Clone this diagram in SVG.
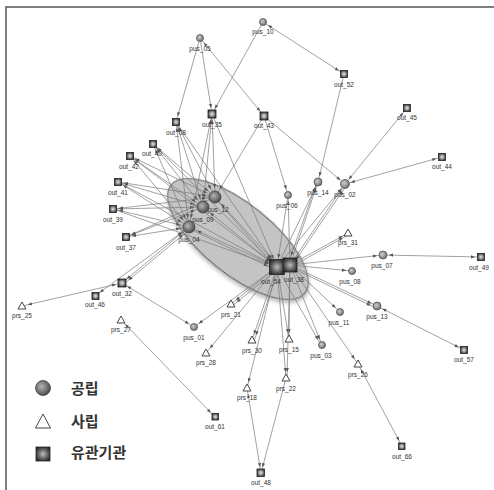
<svg xmlns="http://www.w3.org/2000/svg" width="494" height="490" viewBox="0 0 494 490">
<style>
.t{font-family:"Liberation Sans",Arial,sans-serif;font-size:6.5px;fill:#333;text-anchor:middle}
.c{fill:url(#gc);stroke:#555;stroke-width:0.8}
.cb{fill:url(#gcb);stroke:#444;stroke-width:0.8}
.s{fill:url(#gs);stroke:#222;stroke-width:0.8}
.sb{fill:url(#gsb);stroke:#222;stroke-width:0.8}
.tr{fill:#fff;stroke:#444;stroke-width:1}
#edges line{stroke:#7a7a7a;stroke-width:0.7}
.lg{font-family:"Noto Sans CJK KR","Noto Sans",sans-serif;font-size:15px;font-weight:bold;fill:#333}
</style>
<defs>
<radialGradient id="gc" cx="0.4" cy="0.4" r="0.65"><stop offset="0" stop-color="#cfcfcf"/><stop offset="1" stop-color="#6a6a6a"/></radialGradient>
<radialGradient id="gcb" cx="0.4" cy="0.4" r="0.65"><stop offset="0" stop-color="#b5b5b5"/><stop offset="1" stop-color="#444"/></radialGradient>
<radialGradient id="gs" cx="0.5" cy="0.5" r="0.6"><stop offset="0" stop-color="#e8e8e8"/><stop offset="0.45" stop-color="#999"/><stop offset="1" stop-color="#222"/></radialGradient>
<radialGradient id="gsb" cx="0.5" cy="0.5" r="0.65"><stop offset="0" stop-color="#bdbdbd"/><stop offset="0.6" stop-color="#555"/><stop offset="1" stop-color="#1e1e1e"/></radialGradient>
<marker id="m" markerUnits="userSpaceOnUse" markerWidth="20" markerHeight="20" viewBox="-10 -10 20 20" refX="6" refY="0" orient="auto-start-reverse" overflow="visible"><path d="M0,0 L-4,-1.6 L-4,1.6 Z" fill="#555"/></marker>
<marker id="M" markerUnits="userSpaceOnUse" markerWidth="20" markerHeight="20" viewBox="-10 -10 20 20" refX="9" refY="0" orient="auto-start-reverse" overflow="visible"><path d="M0,0 L-4,-1.6 L-4,1.6 Z" fill="#555"/></marker>
<filter id="sh" x="-20%" y="-20%" width="140%" height="140%"><feDropShadow dx="2" dy="2" stdDeviation="2" flood-color="#000" flood-opacity="0.3"/></filter>
</defs>
<rect x="6" y="7" width="500" height="500" fill="#fff" stroke="#555" stroke-width="1.5"/>
<ellipse id="group_ellipse" cx="238" cy="239" rx="86" ry="35" transform="rotate(39 238 239)" fill="#c4c4c4" stroke="#555" stroke-width="1" filter="url(#sh)"/>
<g id="edges">
<line x1="200" y1="38" x2="176" y2="122" marker-end="url(#m)"/>
<line x1="200" y1="38" x2="212" y2="114" marker-end="url(#m)"/>
<line x1="200" y1="38" x2="264" y2="116" marker-start="url(#m)" marker-end="url(#m)"/>
<line x1="263" y1="22" x2="212" y2="114" marker-end="url(#m)"/>
<line x1="263" y1="22" x2="344" y2="74" marker-start="url(#m)" marker-end="url(#m)"/>
<line x1="344" y1="74" x2="318" y2="182" marker-end="url(#m)"/>
<line x1="407" y1="108" x2="345" y2="184" marker-start="url(#m)" marker-end="url(#m)"/>
<line x1="442" y1="157" x2="345" y2="184" marker-start="url(#m)" marker-end="url(#m)"/>
<line x1="264" y1="116" x2="345" y2="184" marker-end="url(#m)"/>
<line x1="264" y1="116" x2="288" y2="195" marker-end="url(#m)"/>
<line x1="264" y1="116" x2="215" y2="197" marker-end="url(#M)"/>
<line x1="176" y1="122" x2="215" y2="197" marker-start="url(#m)" marker-end="url(#M)"/>
<line x1="176" y1="122" x2="203" y2="207" marker-start="url(#m)" marker-end="url(#M)"/>
<line x1="176" y1="122" x2="189" y2="227" marker-start="url(#m)" marker-end="url(#M)"/>
<line x1="212" y1="114" x2="215" y2="197" marker-start="url(#m)" marker-end="url(#M)"/>
<line x1="212" y1="114" x2="203" y2="207" marker-start="url(#m)" marker-end="url(#M)"/>
<line x1="212" y1="114" x2="189" y2="227" marker-start="url(#m)" marker-end="url(#M)"/>
<line x1="153" y1="144" x2="215" y2="197" marker-start="url(#m)" marker-end="url(#M)"/>
<line x1="153" y1="144" x2="203" y2="207" marker-start="url(#m)" marker-end="url(#M)"/>
<line x1="153" y1="144" x2="189" y2="227" marker-start="url(#m)" marker-end="url(#M)"/>
<line x1="130" y1="156" x2="215" y2="197" marker-start="url(#m)" marker-end="url(#M)"/>
<line x1="130" y1="156" x2="203" y2="207" marker-start="url(#m)" marker-end="url(#M)"/>
<line x1="130" y1="156" x2="189" y2="227" marker-start="url(#m)" marker-end="url(#M)"/>
<line x1="118" y1="182" x2="215" y2="197" marker-start="url(#m)" marker-end="url(#M)"/>
<line x1="118" y1="182" x2="203" y2="207" marker-start="url(#m)" marker-end="url(#M)"/>
<line x1="118" y1="182" x2="189" y2="227" marker-start="url(#m)" marker-end="url(#M)"/>
<line x1="113" y1="209" x2="215" y2="197" marker-start="url(#m)" marker-end="url(#M)"/>
<line x1="113" y1="209" x2="203" y2="207" marker-start="url(#m)" marker-end="url(#M)"/>
<line x1="113" y1="209" x2="189" y2="227" marker-start="url(#m)" marker-end="url(#M)"/>
<line x1="126" y1="237" x2="215" y2="197" marker-start="url(#m)" marker-end="url(#M)"/>
<line x1="126" y1="237" x2="203" y2="207" marker-start="url(#m)" marker-end="url(#M)"/>
<line x1="126" y1="237" x2="189" y2="227" marker-start="url(#m)" marker-end="url(#M)"/>
<line x1="176" y1="122" x2="277" y2="267" marker-end="url(#M)"/>
<line x1="212" y1="114" x2="277" y2="267" marker-end="url(#M)"/>
<line x1="153" y1="144" x2="277" y2="267" marker-end="url(#M)"/>
<line x1="130" y1="156" x2="277" y2="267" marker-end="url(#M)"/>
<line x1="118" y1="182" x2="277" y2="267" marker-end="url(#M)"/>
<line x1="113" y1="209" x2="277" y2="267" marker-end="url(#M)"/>
<line x1="215" y1="197" x2="277" y2="265" marker-start="url(#M)" marker-end="url(#M)"/>
<line x1="216" y1="199" x2="276" y2="268" marker-end="url(#M)"/>
<line x1="203" y1="207" x2="277" y2="267" marker-start="url(#M)" marker-end="url(#M)"/>
<line x1="189" y1="227" x2="277" y2="267" marker-start="url(#M)" marker-end="url(#M)"/>
<line x1="190" y1="229" x2="276" y2="270" marker-end="url(#M)"/>
<line x1="95" y1="296" x2="189" y2="227" marker-start="url(#m)" marker-end="url(#M)"/>
<line x1="122" y1="283" x2="189" y2="227" marker-start="url(#m)" marker-end="url(#M)"/>
<line x1="124" y1="284" x2="190" y2="229" marker-start="url(#m)" marker-end="url(#M)"/>
<line x1="22" y1="306" x2="122" y2="283" marker-start="url(#m)" marker-end="url(#m)"/>
<line x1="122" y1="283" x2="194" y2="327" marker-start="url(#m)" marker-end="url(#m)"/>
<line x1="121" y1="320" x2="215" y2="417" marker-start="url(#m)" marker-end="url(#m)"/>
<line x1="290" y1="265" x2="288" y2="195" marker-end="url(#m)"/>
<line x1="277" y1="267" x2="288" y2="195" marker-start="url(#M)"/>
<line x1="290" y1="265" x2="318" y2="182" marker-end="url(#m)"/>
<line x1="288" y1="264" x2="317" y2="182" marker-start="url(#M)" marker-end="url(#m)"/>
<line x1="277" y1="267" x2="318" y2="182" marker-end="url(#m)"/>
<line x1="290" y1="265" x2="345" y2="184" marker-end="url(#m)"/>
<line x1="291" y1="267" x2="346" y2="186" marker-start="url(#M)" marker-end="url(#m)"/>
<line x1="277" y1="267" x2="345" y2="184" marker-end="url(#m)"/>
<line x1="290" y1="265" x2="348" y2="233" marker-end="url(#m)"/>
<line x1="291" y1="267" x2="348" y2="235" marker-end="url(#m)"/>
<line x1="290" y1="265" x2="383" y2="255" marker-end="url(#m)"/>
<line x1="290" y1="265" x2="352" y2="271" marker-end="url(#m)"/>
<line x1="290" y1="265" x2="377" y2="306" marker-end="url(#m)"/>
<line x1="290" y1="267" x2="376" y2="308" marker-end="url(#m)"/>
<line x1="290" y1="265" x2="340" y2="312" marker-end="url(#m)"/>
<line x1="290" y1="265" x2="358" y2="364" marker-end="url(#m)"/>
<line x1="290" y1="265" x2="322" y2="345" marker-end="url(#m)"/>
<line x1="277" y1="267" x2="321" y2="345" marker-end="url(#m)"/>
<line x1="277" y1="267" x2="289" y2="339" marker-end="url(#m)"/>
<line x1="290" y1="265" x2="289" y2="339" marker-end="url(#m)"/>
<line x1="277" y1="267" x2="286" y2="378" marker-end="url(#m)"/>
<line x1="290" y1="265" x2="287" y2="378" marker-end="url(#m)"/>
<line x1="277" y1="267" x2="252" y2="340" marker-end="url(#m)"/>
<line x1="279" y1="268" x2="254" y2="341" marker-end="url(#m)"/>
<line x1="277" y1="267" x2="247" y2="388" marker-end="url(#m)"/>
<line x1="277" y1="267" x2="231" y2="304" marker-end="url(#m)"/>
<line x1="278" y1="269" x2="232" y2="306" marker-end="url(#m)"/>
<line x1="277" y1="267" x2="206" y2="353" marker-end="url(#m)"/>
<line x1="277" y1="267" x2="194" y2="327" marker-end="url(#m)"/>
<line x1="383" y1="255" x2="481" y2="257" marker-start="url(#m)" marker-end="url(#m)"/>
<line x1="377" y1="306" x2="464" y2="350" marker-start="url(#m)" marker-end="url(#m)"/>
<line x1="358" y1="364" x2="402" y2="446" marker-start="url(#m)" marker-end="url(#m)"/>
<line x1="247" y1="388" x2="261" y2="473" marker-start="url(#m)" marker-end="url(#m)"/>
<line x1="286" y1="378" x2="261" y2="473" marker-end="url(#m)"/>
</g>
<g id="pus_05"><circle class="c" cx="200" cy="38" r="3.5"/><text class="t" x="200" y="50.5">pus_05</text></g>
<g id="pus_10"><circle class="c" cx="263" cy="22" r="3.5"/><text class="t" x="263" y="34">pus_10</text></g>
<g id="pus_12"><circle class="cb" cx="215" cy="197" r="6"/><text class="t" x="218" y="211.5">pus_12</text></g>
<g id="pus_09"><circle class="cb" cx="203" cy="207" r="6"/><text class="t" x="203" y="221.5">pus_09</text></g>
<g id="pus_04"><circle class="cb" cx="189" cy="227" r="6"/><text class="t" x="189" y="241.5">pus_04</text></g>
<g id="pus_06"><circle class="c" cx="288" cy="195" r="3.5"/><text class="t" x="287" y="208">pus_06</text></g>
<g id="pus_14"><circle class="c" cx="318" cy="182" r="4"/><text class="t" x="318" y="195">pus_14</text></g>
<g id="pus_02"><circle class="c" cx="345" cy="184" r="4.5"/><text class="t" x="345" y="196.5">pus_02</text></g>
<g id="pus_07"><circle class="c" cx="383" cy="255" r="4"/><text class="t" x="382" y="268">pus_07</text></g>
<g id="pus_08"><circle class="c" cx="352" cy="271" r="3.5"/><text class="t" x="350" y="283.5">pus_08</text></g>
<g id="pus_11"><circle class="c" cx="340" cy="312" r="3.5"/><text class="t" x="339" y="324.5">pus_11</text></g>
<g id="pus_13"><circle class="c" cx="377" cy="306" r="4"/><text class="t" x="377" y="318.5">pus_13</text></g>
<g id="pus_03"><circle class="c" cx="322" cy="345" r="3.5"/><text class="t" x="321" y="357.5">pus_03</text></g>
<g id="pus_01"><circle class="c" cx="194" cy="327" r="3.5"/><text class="t" x="194" y="339.5">pus_01</text></g>
<g id="prs_31"><path class="tr" d="M348,229 L352,236 L344,236 Z"/><text class="t" x="348" y="244.5">prs_31</text></g>
<g id="prs_26"><path class="tr" d="M358,360 L362,367 L354,367 Z"/><text class="t" x="358" y="376.5">prs_26</text></g>
<g id="prs_21"><path class="tr" d="M231,300 L235,307 L227,307 Z"/><text class="t" x="231" y="316.5">prs_21</text></g>
<g id="prs_28"><path class="tr" d="M206,349 L210,356 L202,356 Z"/><text class="t" x="206" y="365">prs_28</text></g>
<g id="prs_30"><path class="tr" d="M252,336 L256,343 L248,343 Z"/><text class="t" x="252" y="352.5">prs_30</text></g>
<g id="prs_15"><path class="tr" d="M289,335 L293,342 L285,342 Z"/><text class="t" x="289" y="351.5">prs_15</text></g>
<g id="prs_22"><path class="tr" d="M286,374 L290,381 L282,381 Z"/><text class="t" x="286" y="390.5">prs_22</text></g>
<g id="prs_18"><path class="tr" d="M247,384 L251,391 L243,391 Z"/><text class="t" x="247" y="400">prs_18</text></g>
<g id="prs_25"><path class="tr" d="M22,302 L26,309 L18,309 Z"/><text class="t" x="22" y="318">prs_25</text></g>
<g id="prs_27"><path class="tr" d="M121,316 L125,323 L117,323 Z"/><text class="t" x="121" y="332">prs_27</text></g>
<g id="out_08"><rect class="s" x="172.5" y="118.5" width="7" height="7"/><text class="t" x="176" y="135">out_08</text></g>
<g id="out_35"><rect class="s" x="208" y="110" width="8" height="8"/><text class="t" x="212" y="127">out_35</text></g>
<g id="out_43"><rect class="s" x="260" y="112" width="8" height="8"/><text class="t" x="264" y="128">out_43</text></g>
<g id="out_52"><rect class="s" x="340.5" y="70.5" width="7" height="7"/><text class="t" x="344" y="86.5">out_52</text></g>
<g id="out_45"><rect class="s" x="403.5" y="104.5" width="7" height="7"/><text class="t" x="407" y="120">out_45</text></g>
<g id="out_44"><rect class="s" x="438.5" y="153.5" width="7" height="7"/><text class="t" x="442" y="168.5">out_44</text></g>
<g id="out_40"><rect class="s" x="149.5" y="140.5" width="7" height="7"/><text class="t" x="152" y="156">out_40</text></g>
<g id="out_42"><rect class="s" x="126.5" y="152.5" width="7" height="7"/><text class="t" x="129" y="169">out_42</text></g>
<g id="out_41"><rect class="s" x="114.5" y="178.5" width="7" height="7"/><text class="t" x="118" y="194.5">out_41</text></g>
<g id="out_39"><rect class="s" x="109.5" y="205.5" width="7" height="7"/><text class="t" x="113" y="222">out_39</text></g>
<g id="out_37"><rect class="s" x="122.5" y="233.5" width="7" height="7"/><text class="t" x="126" y="249.5">out_37</text></g>
<g id="out_32"><rect class="s" x="118" y="279" width="8" height="8"/><text class="t" x="122" y="295.5">out_32</text></g>
<g id="out_46"><rect class="s" x="92" y="292.5" width="7" height="7"/><text class="t" x="95" y="307">out_46</text></g>
<g id="out_49"><rect class="s" x="477.5" y="253.5" width="7" height="7"/><text class="t" x="479" y="270">out_49</text></g>
<g id="out_57"><rect class="s" x="460.5" y="346.5" width="7" height="7"/><text class="t" x="464" y="362">out_57</text></g>
<g id="out_61"><rect class="s" x="212" y="413.5" width="6.5" height="6.5"/><text class="t" x="215" y="429">out_61</text></g>
<g id="out_66"><rect class="s" x="398.5" y="443" width="6.5" height="6.5"/><text class="t" x="402" y="458.5">out_66</text></g>
<g id="out_48"><rect class="s" x="257" y="469" width="7.5" height="7.5"/><text class="t" x="261" y="485">out_48</text></g>
<g id="out_54"><rect class="sb" x="269.5" y="259.5" width="15" height="15"/><text class="t" x="271" y="283.5">out_54</text></g>
<g id="out_38"><rect class="sb" x="283" y="258" width="14" height="14"/><text class="t" x="294" y="282">out_38</text></g>
<g id="legend">
<circle class="cb" cx="43" cy="388" r="7.5"/>
<text class="lg" x="71" y="394">공립</text>
<path class="tr" d="M43,414 L50.5,428 L35.5,428 Z" stroke-width="1.3"/>
<text class="lg" x="71" y="427">사립</text>
<rect class="sb" x="36" y="447" width="14" height="14"/>
<text class="lg" x="71" y="458">유관기관</text>
</g>
</svg>
